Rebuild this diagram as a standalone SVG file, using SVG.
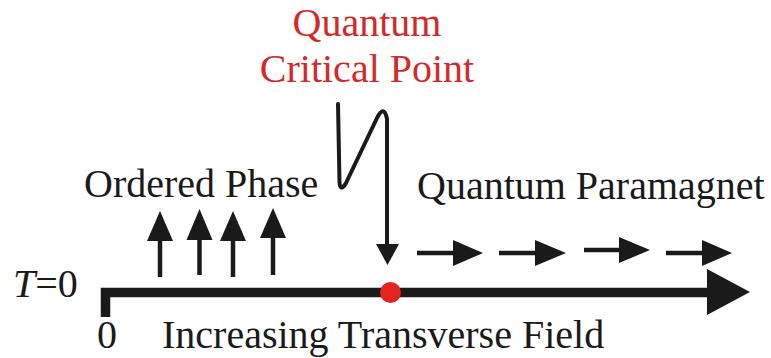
<svg xmlns="http://www.w3.org/2000/svg" width="771" height="358" viewBox="0 0 771 358">
  <style>
    .t { font-family: "Liberation Serif", "Times New Roman", serif; font-size: 40px; fill: #1a1a1a; }
    .red { fill: #d62828; }
    .shaft { stroke: #1a1a1a; stroke-width: 4.5; fill: none; }
    .head { fill: #1a1a1a; }
  </style>
  <rect width="771" height="358" fill="#ffffff"/>

  <g id="qcp-label">
    <text class="t red" x="367" y="36" text-anchor="middle">Quantum</text>
    <text class="t red" x="367" y="82" text-anchor="middle">Critical Point</text>
  </g>

  <g id="ordered-phase">
    <text class="t" x="84" y="197">Ordered Phase</text>
    <line class="shaft" x1="160" y1="236" x2="160" y2="277"/>
    <polygon class="head" points="160,211 147,241 173,241"/>
    <line class="shaft" x1="199.5" y1="236" x2="199.5" y2="275"/>
    <polygon class="head" points="199.5,209 186.5,240 212.5,240"/>
    <line class="shaft" x1="233" y1="236" x2="233" y2="277"/>
    <polygon class="head" points="233,211 220,241 246,241"/>
    <line class="shaft" x1="273" y1="234" x2="273" y2="275"/>
    <polygon class="head" points="273,208 260,238 286,238"/>
  </g>

  <g id="quantum-paramagnet">
    <text class="t" x="417" y="199">Quantum Paramagnet</text>
    <line class="shaft" x1="417" y1="253" x2="458" y2="253"/>
    <polygon class="head" points="483,253 453,240 453,266"/>
    <line class="shaft" x1="499" y1="253" x2="540" y2="253"/>
    <polygon class="head" points="566,253 535,240 535,266"/>
    <line class="shaft" x1="584" y1="250" x2="624" y2="250"/>
    <polygon class="head" points="650,250 619,237 619,263"/>
    <line class="shaft" x1="666" y1="253" x2="707" y2="253"/>
    <polygon class="head" points="732,253 702,240 702,266"/>
  </g>

  <g id="axis">
    <text class="t" x="13" y="297" font-size="38"><tspan font-style="italic">T</tspan>=0</text>
    <text class="t" x="97" y="348">0</text>
    <path d="M105.5,317 V292.5 H712" fill="none" stroke="#1a1a1a" stroke-width="9.5" stroke-linejoin="miter"/>
    <polygon class="head" points="707,269 750,292 707,315"/>
    <text class="t" x="162" y="348">Increasing Transverse Field</text>
  </g>

  <g id="critical-point">
    <circle cx="390.5" cy="292.5" r="10.5" fill="#e52420"/>
  </g>

  <g id="connectors">
    <path d="M338,104 L339.5,182 Q340,192 345.5,184 L377,118 Q384,104 387,119 L387,246" fill="none" stroke="#1a1a1a" stroke-width="4" stroke-linecap="round" stroke-linejoin="round"/>
    <polygon class="head" points="376,244 399,244 387.5,265"/>
  </g>
</svg>
